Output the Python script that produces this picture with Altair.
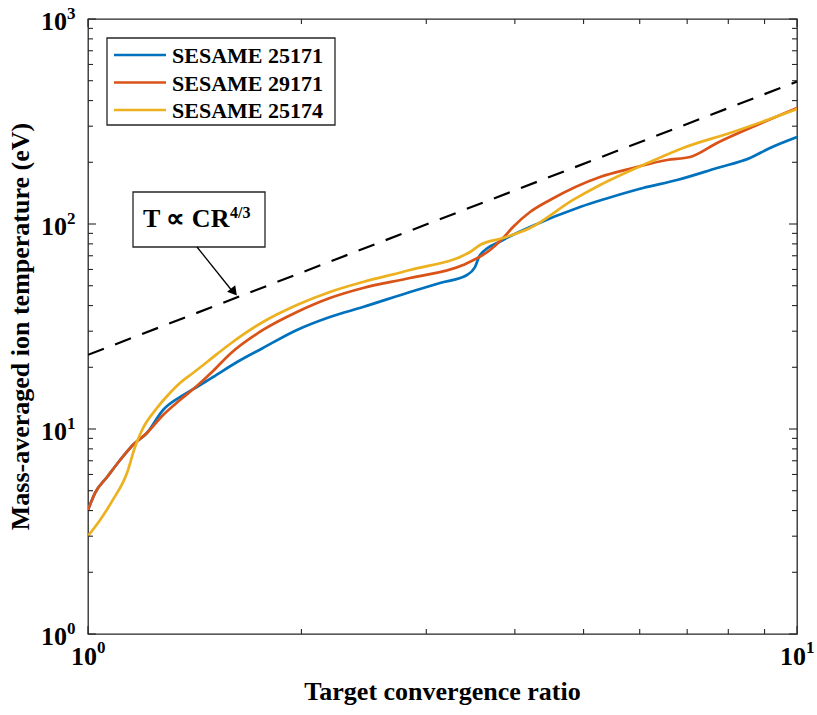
import altair as alt
import pandas as pd

# ---------------- data ----------------
cr_25171 = [1.0, 1.023, 1.064, 1.110, 1.157, 1.211, 1.276, 1.348, 1.424, 1.501, 1.623, 1.765,
            1.971, 2.194, 2.443, 2.846, 3.137, 3.424, 3.514, 3.572, 3.849, 4.202, 4.943, 5.36,
            6.064, 6.772, 7.714, 8.585, 9.161, 10.0]
t_25171 = [4.03, 4.87, 5.83, 7.06, 8.36, 9.56, 12.38, 14.32, 16.03, 17.93, 21.23, 24.84,
           30.41, 35.18, 39.36, 46.59, 51.55, 56.40, 61.68, 70.61, 83.56, 96.69, 121.0, 132.4,
           149.8, 163.9, 187.6, 209.9, 234.9, 265.7]

cr_29171 = [1.0, 1.023, 1.064, 1.110, 1.157, 1.211, 1.276, 1.348, 1.424, 1.501, 1.586, 1.765,
            1.971, 2.194, 2.443, 2.846, 3.380, 3.690, 3.849, 3.976, 4.202, 4.484, 5.275, 5.870,
            6.556, 7.065, 7.714, 8.585, 10.0]
t_29171 = [4.03, 4.87, 5.83, 7.06, 8.36, 9.56, 11.70, 13.85, 16.21, 19.18, 23.22, 30.41,
           37.22, 43.55, 48.73, 54.53, 63.10, 74.69, 85.46, 96.69, 114.4, 131.0, 169.6, 187.6,
           205.3, 212.3, 248.5, 294.0, 368.0]

cr_25174 = [1.0, 1.040, 1.084, 1.135, 1.165, 1.192, 1.251, 1.297, 1.348, 1.406, 1.472, 1.586,
            1.765, 1.971, 2.194, 2.443, 2.846, 3.458, 3.572, 3.849, 4.202, 4.832, 5.275, 6.204,
            6.906, 8.124, 9.073, 10.0]
t_25174 = [3.01, 3.60, 4.51, 6.10, 8.17, 9.89, 12.66, 14.65, 16.77, 18.76, 21.23, 25.98,
           33.27, 40.26, 46.59, 52.13, 59.64, 73.02, 78.99, 85.46, 95.61, 131.0, 155.0, 200.7,
           234.9, 281.1, 321.6, 363.9]

dash_cr = [1.0, 10.0]
dash_t = [23.0, 495.0]

series_names = ["SESAME 25171", "SESAME 29171", "SESAME 25174"]
series_colors = ["#0072BD", "#D95319", "#EDB120"]

y_major = [1, 10, 100, 1000]
y_minor = [2, 3, 4, 5, 6, 7, 8, 9, 20, 30, 40, 50, 60, 70, 80, 90,
           200, 300, 400, 500, 600, 700, 800, 900]
x_major = [1, 10]
x_minor = [2, 3, 4, 5, 6, 7, 8, 9]
y_label_vals = [1, 10, 100, 1000]
y_label_exp = ["0", "1", "2", "3"]
x_label_vals = [1, 10]
x_label_exp = ["0", "1"]

x_title = "Target convergence ratio"
y_title = "Mass-averaged ion temperature (eV)"
annot_base = "T \u221d CR"
annot_exp = "4/3"

# ---------------- layout ----------------
W, H = 709, 615
FONT = "Liberation Serif"
AX = "#262626"

xs = alt.Scale(type="log", domain=[1, 10], nice=False)
ys = alt.Scale(type="log", domain=[1, 1000], nice=False)


def X(f):
    return alt.X(f, type="quantitative", scale=xs, axis=None)


def Y(f):
    return alt.Y(f, type="quantitative", scale=ys, axis=None)


one = pd.DataFrame({"a": [0]})
layers = []

# curves, drawn in MATLAB order (last on top)
for name, color, cr, t in zip(series_names, series_colors,
                              [cr_25171, cr_29171, cr_25174],
                              [t_25171, t_29171, t_25174]):
    df = pd.DataFrame({"cr": cr, "t": t})
    layers.append(alt.Chart(df).mark_line(color=color, strokeWidth=2.7, clip=True,
                                          interpolate="monotone")
                  .encode(x=X("cr"), y=Y("t")))

# dashed power law
ddf = pd.DataFrame({"cr": dash_cr, "t": dash_t})
layers.append(alt.Chart(ddf).mark_line(color="black", strokeWidth=2.2, strokeDash=[17, 12], clip=True)
              .encode(x=X("cr"), y=Y("t")))

# ticks (inward, all four sides)
for vals, L in [(y_major, 8), (y_minor, 5)]:
    d = pd.DataFrame({"v": vals})
    layers.append(alt.Chart(d).mark_rule(color=AX, strokeWidth=1.1)
                  .encode(y=Y("v"), x=alt.value(0), x2=alt.value(L)))
    layers.append(alt.Chart(d).mark_rule(color=AX, strokeWidth=1.1)
                  .encode(y=Y("v"), x=alt.value(W - L), x2=alt.value(W)))
for vals, L in [(x_major, 8), (x_minor, 5)]:
    d = pd.DataFrame({"v": vals})
    layers.append(alt.Chart(d).mark_rule(color=AX, strokeWidth=1.1)
                  .encode(x=X("v"), y=alt.value(H - L), y2=alt.value(H)))
    layers.append(alt.Chart(d).mark_rule(color=AX, strokeWidth=1.1)
                  .encode(x=X("v"), y=alt.value(0), y2=alt.value(L)))

# tick labels 10^n
ydf = pd.DataFrame({"v": y_label_vals, "e": y_label_exp})
layers.append(alt.Chart(ydf).mark_text(align="right", baseline="alphabetic", font=FONT,
                                       fontWeight="bold", fontSize=26, dy=11, color="black")
              .encode(y=Y("v"), x=alt.value(-21), text=alt.value("10")))
layers.append(alt.Chart(ydf).mark_text(align="left", baseline="alphabetic", font=FONT,
                                       fontWeight="bold", fontSize=17, dy=0, color="black")
              .encode(y=Y("v"), x=alt.value(-21), text="e:N"))
xdf = pd.DataFrame({"v": x_label_vals, "e": x_label_exp})
layers.append(alt.Chart(xdf).mark_text(align="right", baseline="alphabetic", font=FONT,
                                       fontWeight="bold", fontSize=26, dx=9, color="black")
              .encode(x=X("v"), y=alt.value(H + 31), text=alt.value("10")))
layers.append(alt.Chart(xdf).mark_text(align="left", baseline="alphabetic", font=FONT,
                                       fontWeight="bold", fontSize=17, dx=9, color="black")
              .encode(x=X("v"), y=alt.value(H + 19), text="e:N"))

# axis titles
layers.append(alt.Chart(one).mark_text(align="center", baseline="alphabetic", font=FONT,
                                       fontWeight="bold", fontSize=26, color="black")
              .encode(x=alt.value(W / 2), y=alt.value(681), text=alt.value(x_title)))
layers.append(alt.Chart(one).mark_text(align="center", baseline="alphabetic", font=FONT,
                                       fontWeight="bold", fontSize=26, angle=270, color="black")
              .encode(x=alt.value(-59), y=alt.value(H / 2), text=alt.value(y_title)))

# legend box
layers.append(alt.Chart(one).mark_rect(fill="white", stroke=AX, strokeWidth=1.3)
              .encode(x=alt.value(19), x2=alt.value(247), y=alt.value(19), y2=alt.value(106)))
for i, (name, color) in enumerate(zip(series_names, series_colors)):
    yy = 36 + i * 27.5
    layers.append(alt.Chart(one).mark_rule(color=color, strokeWidth=2.7)
                  .encode(x=alt.value(26), x2=alt.value(78), y=alt.value(yy)))
    layers.append(alt.Chart(one).mark_text(align="left", baseline="middle", font=FONT,
                                           fontWeight="bold", fontSize=22, color="black")
                  .encode(x=alt.value(84), y=alt.value(yy + 1), text=alt.value(name)))

# annotation box + arrow
layers.append(alt.Chart(one).mark_rect(fill="white", stroke=AX, strokeWidth=1.3)
              .encode(x=alt.value(45), x2=alt.value(177), y=alt.value(173), y2=alt.value(228)))
layers.append(alt.Chart(one).mark_text(align="left", baseline="alphabetic", font=FONT,
                                       fontWeight="bold", fontSize=26, color="black")
              .encode(x=alt.value(55), y=alt.value(208), text=alt.value(annot_base)))
layers.append(alt.Chart(one).mark_text(align="left", baseline="alphabetic", font=FONT,
                                       fontWeight="bold", fontSize=16, color="black")
              .encode(x=alt.value(142), y=alt.value(199), text=alt.value(annot_exp)))
layers.append(alt.Chart(one).mark_rule(color="black", strokeWidth=1.3)
              .encode(x=alt.value(109), x2=alt.value(145), y=alt.value(228), y2=alt.value(273)))
layers.append(alt.Chart(one).mark_point(shape="triangle-down", filled=True, color="black",
                                        size=110, angle=321, opacity=1)
              .encode(x=alt.value(146), y=alt.value(273)))

chart = alt.layer(*layers).properties(
    width=W, height=H,
    autosize=alt.AutoSizeParams(type="none"),
    padding={"left": 88, "top": 19, "right": 20, "bottom": 81},
    background="white",
).configure_view(stroke=AX, strokeWidth=1.3)

chart.save("out.html", embed_options={"renderer": "svg", "actions": False})
